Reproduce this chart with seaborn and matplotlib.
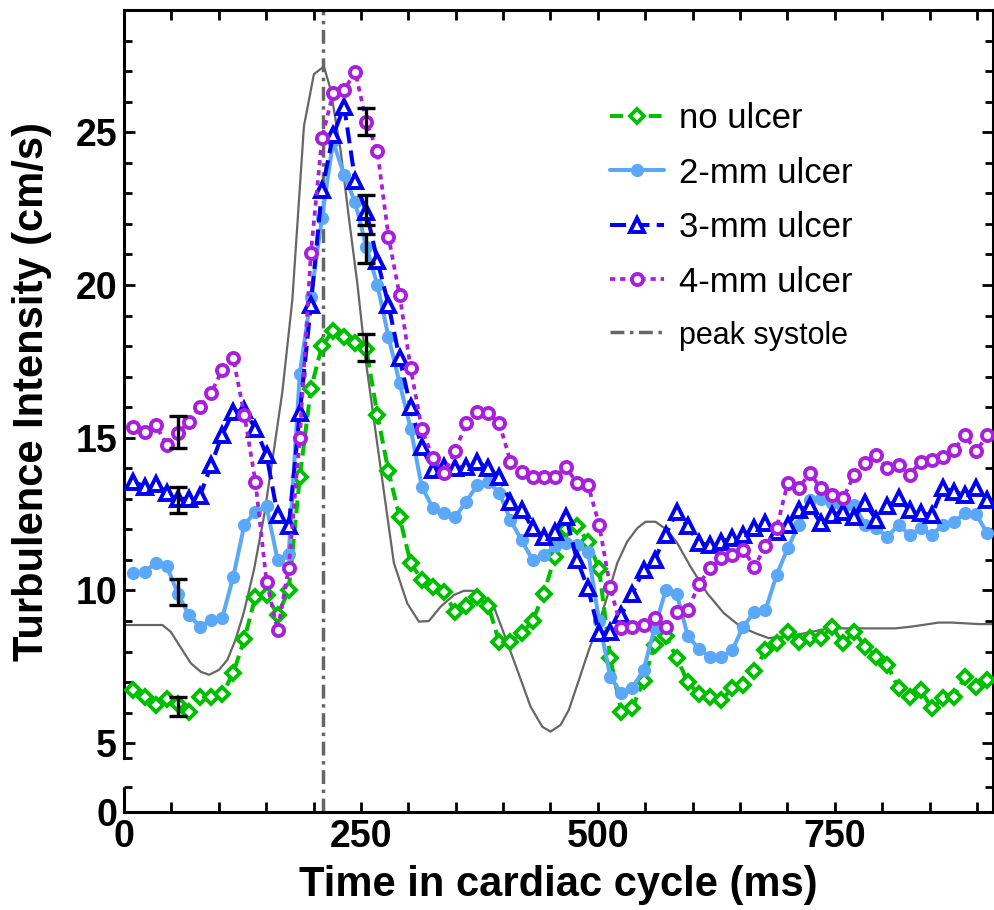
import numpy as np
import pandas as pd
import matplotlib
matplotlib.use("Agg")
import matplotlib.pyplot as plt
from matplotlib.ticker import FixedLocator, FixedFormatter, NullFormatter
import seaborn as sns

# ---------------- data ----------------
# sample times (ms): 78 frames across the cardiac cycle
times = 10 + 11.7 * np.arange(78)

no_ulcer = [6.74, 6.5, 6.25, 6.45, 6.3, 6.03, 6.5, 6.5, 6.6, 7.3,
            8.4, 9.8, 9.85, 9.2, 10.0, 13.7, 16.6, 18.0, 18.5, 18.3,
            18.1, 17.9, 15.75, 13.9, 12.4, 10.9, 10.35, 10.1, 9.96, 9.3,
            9.5, 9.8, 9.5, 8.3, 8.3, 8.6, 9.0, 9.9, 11.1, 12.0,
            12.1, 11.6, 10.7, 7.8, 6.03, 6.16, 7.05, 8.2, 8.5, 7.8,
            7.0, 6.6, 6.5, 6.4, 6.8, 6.9, 7.35, 8.05, 8.27, 8.65,
            8.33, 8.44, 8.44, 8.82, 8.27, 8.65, 8.16, 7.83, 7.56, 6.8,
            6.53, 6.74, 6.15, 6.47, 6.53, 7.18, 6.85, 7.07]

ulcer_2mm = [10.58, 10.62, 10.9, 10.8, 9.9, 9.2, 8.82, 9.04, 9.1, 10.45,
             12.15, 12.58, 12.75, 11.0, 11.2, 17.1, 19.6, 22.2, 24.7, 23.6,
             22.7, 21.25, 20.0, 18.3, 16.8, 15.3, 13.4, 12.7, 12.55, 12.4,
             12.9, 13.45, 13.56, 13.2, 12.3, 11.65, 11.0, 11.16, 11.44, 11.55,
             11.5, 11.27, 9.0, 7.18, 6.64, 6.8, 7.4, 8.76, 10.0, 9.9,
             8.5, 8.1, 7.83, 7.83, 8.05, 8.82, 9.3, 9.36, 10.5, 11.38,
             12.15, 12.96, 12.99, 12.86, 12.7, 12.8, 12.15, 12.04, 11.76, 12.15,
             11.82, 12.04, 11.82, 12.15, 12.25, 12.53, 12.5, 11.87]

ulcer_3mm = [13.56, 13.4, 13.5, 13.2, 13.0, 13.0, 13.1, 14.1, 15.1, 15.85,
             15.9, 15.3, 14.44, 12.47, 12.1, 15.8, 19.35, 23.1, 24.9, 25.84,
             23.4, 22.4, 20.8, 19.35, 17.6, 16.0, 14.7, 13.95, 14.05, 14.0,
             14.05, 14.2, 14.0, 13.73, 12.9, 12.64, 12.04, 11.76, 11.93, 12.42,
             11.0, 10.07, 8.6, 8.65, 9.2, 9.9, 10.67, 11.0, 11.82, 12.58,
             12.1, 11.55, 11.49, 11.6, 11.71, 11.82, 12.04, 12.2, 11.93, 12.15,
             12.64, 12.75, 12.2, 12.47, 12.58, 12.42, 12.86, 12.31, 12.75, 13.02,
             12.64, 12.53, 12.47, 13.35, 13.24, 13.13, 13.35, 12.96]

ulcer_4mm = [15.36, 15.2, 15.42, 14.76, 15.15, 15.53, 16.02, 16.46, 17.22, 17.6,
             15.75, 13.56, 10.29, 8.7, 10.73, 15.0, 21.04, 24.8, 26.28, 26.38,
             26.98, 25.35, 24.37, 21.58, 19.67, 17.27, 15.3, 14.33, 13.84, 14.55,
             15.47, 15.85, 15.8, 15.47, 14.22, 13.89, 13.73, 13.73, 13.73, 14.05,
             13.51, 13.45, 12.15, 10.1, 8.76, 8.8, 8.87, 9.1, 8.8, 9.3,
             9.36, 10.2, 10.73, 11.06, 11.16, 11.33, 10.78, 11.44, 12.04, 13.51,
             13.35, 13.84, 13.35, 13.13, 13.02, 13.78, 14.17, 14.44, 14.0, 14.11,
             13.78, 14.22, 14.27, 14.38, 14.6, 15.09, 14.55, 15.09]

# flow waveform (scaled, grey line)
flow_t = [0, 40.5, 49.3, 61.6, 70.5, 81.0, 89.7, 100.2, 109.1, 117.8,
          126.6, 137.1, 147.7, 158.2, 167.1, 177.6, 189.9, 200.4, 211.0, 218.0,
          228.6, 237.3, 246.2, 255.0, 270.8, 284.8, 298.9, 311.2, 321.7, 334.1,
          348.1, 358.6, 369.2, 379.7, 390.3, 400.8, 415.0, 429.0, 441.4, 450.1,
          460.7, 469.4, 480.0, 490.5, 501.1, 509.9, 520.5, 531.0, 541.6, 550.3,
          560.9, 573.2, 583.8, 597.8, 615.4, 632.9, 650.5, 666.4, 680.4, 708.5,
          743.7, 778.9, 814.0, 831.6, 859.7, 873.8, 901.9, 917.4]
flow_v = [8.87, 8.87, 8.65, 8.05, 7.62, 7.34, 7.24, 7.4, 7.73, 8.4,
          9.3, 10.67, 12.42, 14.6, 16.5, 19.5, 25.2, 26.9, 27.15, 26.4,
          24.4, 22.2, 20.06, 17.55, 14.0, 10.9, 9.58, 8.98, 9.0, 9.47,
          9.85, 9.99, 9.99, 9.8, 9.47, 8.6, 7.4, 6.2, 5.54, 5.38,
          5.6, 6.09, 7.07, 8.05, 8.93, 9.8, 10.9, 11.6, 12.04, 12.25,
          12.25, 11.98, 11.55, 10.78, 9.91, 9.26, 8.82, 8.6, 8.44, 8.54,
          8.76, 8.76, 8.76, 8.82, 8.95, 8.95, 8.9, 8.9]

peak_systole = 210

# error bars (mean, half-range) at two time frames: index 4 and index 21
err_idx = [4, 21]
err_mean = {4: [6.2, 9.95, 12.97, 15.19], 21: [17.95, 21.2, 22.45, 25.35]}
err_half = {4: [0.31, 0.42, 0.43, 0.53], 21: [0.45, 0.48, 0.5, 0.45]}

labels = ["no ulcer", "2-mm ulcer", "3-mm ulcer", "4-mm ulcer"]

x_major = [0, 250, 500, 750]
x_minor = [50, 100, 150, 200, 300, 350, 400, 450, 550, 600, 650, 700, 800, 850, 900]
y_major = [0, 5, 10, 15, 20, 25]
y_major_labels = ["0", "5", "10", "15", "20", "25"]

# ---------------- style ----------------
sns.set_style("ticks")
plt.rcParams["font.family"] = ["Liberation Sans", "DejaVu Sans"]
plt.rcParams["text.color"] = "black"
plt.rcParams["axes.labelcolor"] = "black"
plt.rcParams["xtick.color"] = "black"
plt.rcParams["ytick.color"] = "black"

fig = plt.figure(figsize=(9.95, 9.10), dpi=100)
W, H = 995, 910
ax = fig.add_axes([124 / W, 1 - 812 / H, (993 - 124) / W, (812 - 10) / H])

# broken y-axis: 0..0.82 kept, gap compressed, >=4.53 shifted
BRK_LO, BRK_HI = 0.82, 4.53
xp = [-1000, BRK_LO, BRK_HI, 1000]
fp = [-1000, BRK_LO, BRK_LO + 0.96, 1000 - (BRK_HI - BRK_LO - 0.96)]
fwd = lambda v: np.interp(v, xp, fp)
inv = lambda u: np.interp(u, fp, xp)
ax.set_yscale("function", functions=(fwd, inv))

# grey flow waveform
sns.lineplot(x=flow_t, y=flow_v, ax=ax, color="#666666", lw=1.6, zorder=1,
             legend=False)

series = [
    dict(y=no_ulcer, color="#00bf00", ls=(0, (3.2, 1.6)), marker="D", ms=7.5,
         mfc="white", lw=2.9, mew=2.8),
    dict(y=ulcer_2mm, color="#5ca8f8", ls="-", marker="o", ms=8.5,
         mfc="#5ca8f8", lw=2.9, mew=1.0),
    dict(y=ulcer_3mm, color="#0000f0", ls=(0, (4.0, 1.8)), marker="^", ms=10,
         mfc="white", lw=2.9, mew=2.8),
    dict(y=ulcer_4mm, color="#a820dd", ls=(0, (1.4, 1.3)), marker="o", ms=8,
         mfc="white", lw=2.7, mew=2.8),
]
handles = []
for lab, s in zip(labels, series):
    sns.lineplot(x=times, y=s["y"], ax=ax, color=s["color"], linestyle=s["ls"],
                 lw=s["lw"], marker=s["marker"], markersize=s["ms"],
                 markerfacecolor=s["mfc"], markeredgecolor=s["color"],
                 markeredgewidth=s["mew"], label=lab, zorder=3)
    handles.append(ax.lines[-1])

vl = ax.axvline(peak_systole, color="#666666", lw=2.5,
                linestyle=(0, (4, 1.6, 1, 1.6)), zorder=2, label="peak systole")
handles.append(vl)

for k in err_idx:
    ax.errorbar([times[k]] * 4, err_mean[k], yerr=err_half[k], fmt="none",
                ecolor="black", elinewidth=2.4, capsize=6.5, capthick=2.4,
                zorder=6)

# axes limits & ticks
ax.set_xlim(0, 917)
ax.set_ylim(0, 29.0)
ax.xaxis.set_major_locator(FixedLocator(x_major))
ax.xaxis.set_minor_locator(FixedLocator(x_minor))
ax.set_xticklabels([str(v) for v in x_major])
ax.yaxis.set_major_locator(FixedLocator(y_major))
ax.yaxis.set_major_formatter(FixedFormatter(y_major_labels))
y_minor = [BRK_LO, BRK_HI] + [v for v in range(6, 30) if v % 5 != 0]
ax.yaxis.set_minor_locator(FixedLocator(y_minor))
ax.yaxis.set_minor_formatter(NullFormatter())

ax.tick_params(axis="both", which="both", direction="in", top=True, right=True,
               width=2.0, colors="black")
ax.tick_params(axis="y", which="major", length=8)
ax.tick_params(axis="y", which="minor", length=5.5)
ax.tick_params(axis="x", which="both", length=7.5)
ax.tick_params(axis="both", which="major", labelsize=27, pad=5)
for t in ax.get_xticklabels() + ax.get_yticklabels():
    t.set_fontweight("bold")
    t.set_color("black")

for sp in ax.spines.values():
    sp.set_linewidth(2.2)
    sp.set_color("black")
ax.spines["left"].set_bounds(BRK_HI, 29.0)
# lower stub of the broken left axis
ax.plot([0, 0], [0, BRK_LO], transform=ax.get_yaxis_transform(), color="black",
        lw=2.2, clip_on=False, solid_capstyle="butt", zorder=10)

ax.set_xlabel("Time in cardiac cycle (ms)", fontsize=30, fontweight="bold",
              color="black")
ax.set_ylabel("Turbulence Intensity (cm/s)", fontsize=30, fontweight="bold",
              color="black")
ax.xaxis.set_label_coords(0.5, -0.066)
ax.yaxis.set_label_coords(-0.083, 0.524)

leg = ax.legend(handles=handles, labels=labels + ["peak systole"],
                loc="upper left", bbox_to_anchor=(610 / W, 1 - 102 / H),
                bbox_transform=fig.transFigure, frameon=False, fontsize=25,
                handlelength=1.55, handletextpad=0.45, labelspacing=0.62,
                numpoints=1, borderpad=0, borderaxespad=0)
for t in leg.get_texts():
    t.set_color("black")
leg.get_texts()[-1].set_fontsize(22)

fig.savefig("out.png", dpi=100)
